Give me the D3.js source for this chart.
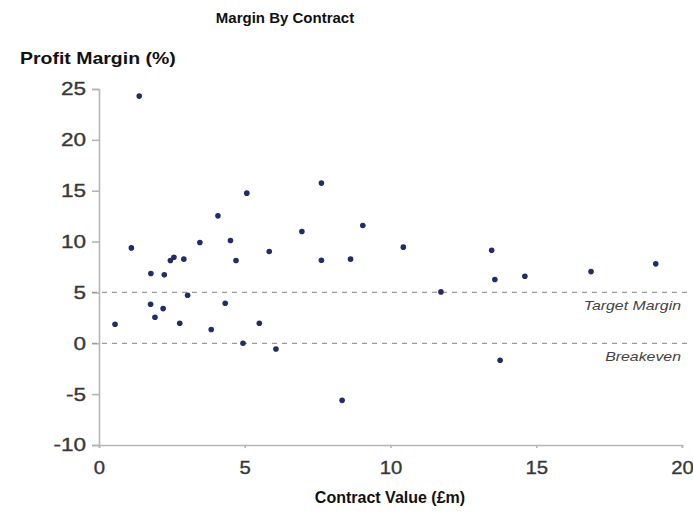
<!DOCTYPE html>
<html>
<head>
<meta charset="utf-8">
<script src="https://cdn.jsdelivr.net/npm/d3@7"></script>
<style>
  html, body { margin: 0; padding: 0; background: #fff; }
  svg { display: block; font-family: "Liberation Sans", Arial, Helvetica, sans-serif; }
</style>
</head>
<body>
<svg id="chart" width="693" height="519"></svg>
<script>
// ---- data ----
const contractValue = [1.38, 1.11, 5.07, 4.08, 3.46, 4.51, 4.70, 2.91, 2.45, 2.57, 1.78, 2.24, 0.55, 1.77, 1.92, 2.20, 3.04, 2.77, 3.85, 4.33, 4.94, 5.50, 7.63, 6.96, 9.05, 5.84, 7.63, 8.63, 10.44, 11.73, 6.07, 8.34, 13.47, 13.58, 14.61, 16.88, 19.10, 13.76];
const profitMargin  = [24.3, 9.38, 14.76, 12.53, 9.91, 10.1, 8.14, 8.27, 8.14, 8.46, 6.86, 6.73, 1.87, 3.84, 2.56, 3.41, 4.72, 1.97, 1.35, 3.94, 0.0, 1.97, 15.75, 10.99, 11.58, 9.02, 8.17, 8.27, 9.45, 5.05, -0.56, -5.61, 9.15, 6.27, 6.59, 7.05, 7.81, -1.67];
const xTicks = [0, 5, 10, 15, 20];
const yTicks = [-10, -5, 0, 5, 10, 15, 20, 25];
const refLines = [{value: 5, label: "Target Margin"}, {value: 0, label: "Breakeven"}];
const chartTitle = "Margin By Contract";
const xTitle = "Contract Value (£m)";
const yTitle = "Profit Margin (%)";

// ---- layout ----
const svg = d3.select("#chart");
const x = d3.scaleLinear().domain([0, 20]).range([99, 682]);
const y = d3.scaleLinear().domain([-10, 25]).range([445, 89]);
const axisColor = "#b5b5b5";
const textColor = "#383838";
const hyphenFmt = d => String(d); // plain hyphen-minus as in the original

// widen a text element horizontally by a factor (the original's type is stretched)
function stretch(sel, f) {
  sel.each(function () {
    const w = this.getComputedTextLength();
    d3.select(this).attr("textLength", w * f).attr("lengthAdjust", "spacingAndGlyphs");
  });
}

// Title
svg.append("text").attr("x", 285).attr("y", 23).attr("text-anchor", "middle")
  .attr("font-weight", "bold").attr("font-size", 15).attr("fill", "#111").text(chartTitle);

// Y title
svg.append("text").attr("x", 20).attr("y", 64)
  .attr("font-weight", "bold").attr("font-size", 16.5).attr("fill", "#111").text(yTitle)
  .call(stretch, 1.18);

// X title
svg.append("text").attr("x", 390).attr("y", 503).attr("text-anchor", "middle")
  .attr("font-weight", "bold").attr("font-size", 16).attr("fill", "#111").text(xTitle);

// Y axis
const yAxis = svg.append("g").attr("transform", `translate(${x(0)},0)`)
  .call(d3.axisLeft(y).tickValues(yTicks).tickSize(7).tickPadding(6).tickFormat(hyphenFmt));
yAxis.select(".domain").attr("stroke", axisColor).attr("stroke-width", 1.6);
yAxis.selectAll(".tick line").attr("stroke", axisColor).attr("stroke-width", 1.6);
yAxis.selectAll(".tick text").attr("font-size", 18.5).attr("fill", textColor)
  .attr("stroke", textColor).attr("stroke-width", 0.35)
  .attr("font-family", "Liberation Sans, Arial, sans-serif").call(stretch, 1.22);

// X axis
const xAxis = svg.append("g").attr("transform", `translate(0,${y(-10)})`)
  .call(d3.axisBottom(x).tickValues(xTicks).tickSize(3).tickPadding(13).tickFormat(hyphenFmt));
xAxis.select(".domain").attr("stroke", axisColor).attr("stroke-width", 1.6);
xAxis.selectAll(".tick line").attr("stroke", axisColor).attr("stroke-width", 1.6);
xAxis.selectAll(".tick text").attr("font-size", 18.5).attr("fill", textColor)
  .attr("stroke", textColor).attr("stroke-width", 0.35)
  .attr("font-family", "Liberation Sans, Arial, sans-serif").call(stretch, 1.1);

// Reference lines
svg.append("g").selectAll("line").data(refLines).join("line")
  .attr("x1", x(0) - 7).attr("x2", x(20) + 6)
  .attr("y1", d => y(d.value)).attr("y2", d => y(d.value))
  .attr("stroke", "#9a9a9a").attr("stroke-width", 1.3).attr("stroke-dasharray", "5,5");

svg.append("g").selectAll("text").data(refLines).join("text")
  .attr("x", x(20) - 1).attr("y", d => y(d.value) + 18)
  .attr("text-anchor", "end").attr("font-style", "italic").attr("font-size", 13)
  .attr("fill", "#444").text(d => d.label)
  .call(stretch, 1.22);

// Points
svg.append("g").selectAll("circle").data(contractValue.map((v, i) => [v, profitMargin[i]]))
  .join("circle")
  .attr("cx", d => x(d[0])).attr("cy", d => y(d[1])).attr("r", 2.8)
  .attr("fill", "#1f2d6b");
</script>
</body>
</html>
